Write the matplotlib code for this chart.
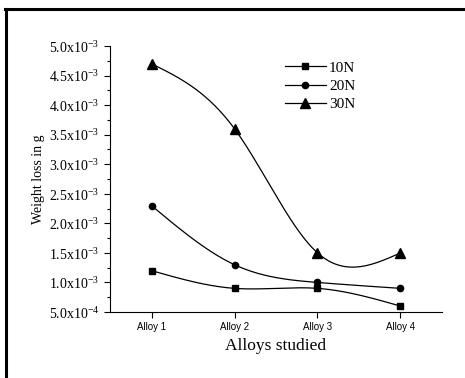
import numpy as np
import matplotlib.pyplot as plt
from matplotlib.lines import Line2D

# Data
alloys = ["Alloy 1", "Alloy 2", "Alloy 3", "Alloy 4"]
loss_10n = [1.2e-3, 0.9e-3, 0.9e-3, 0.6e-3]
loss_20n = [2.3e-3, 1.3e-3, 1.0e-3, 0.9e-3]
loss_30n = [4.7e-3, 3.6e-3, 1.5e-3, 1.5e-3]
y_ticks = [0.5e-3, 1.0e-3, 1.5e-3, 2.0e-3, 2.5e-3, 3.0e-3, 3.5e-3, 4.0e-3, 4.5e-3, 5.0e-3]
y_labels = ["5.0x10$^{\\mathregular{-4}}$"] + \
    ["%.1fx10$^{\\mathregular{-3}}$" % (v * 1e3) for v in y_ticks[1:]]


# Natural cubic spline through the points, for the smoothed lines
def spline(x, y, n=200):
    x = np.asarray(x, float)
    y = np.asarray(y, float)
    k = len(x)
    h = np.diff(x)
    A = np.zeros((k, k))
    b = np.zeros(k)
    A[0, 0] = A[-1, -1] = 1
    for i in range(1, k - 1):
        A[i, i - 1] = h[i - 1]
        A[i, i] = 2 * (h[i - 1] + h[i])
        A[i, i + 1] = h[i]
        b[i] = 3 * ((y[i + 1] - y[i]) / h[i] - (y[i] - y[i - 1]) / h[i - 1])
    c = np.linalg.solve(A, b)
    xs = np.linspace(x[0], x[-1], n)
    ys = np.empty_like(xs)
    for j, xv in enumerate(xs):
        i = min(np.searchsorted(x, xv, side="right") - 1, k - 2)
        dx = xv - x[i]
        bi = (y[i + 1] - y[i]) / h[i] - h[i] * (2 * c[i] + c[i + 1]) / 3
        di = (c[i + 1] - c[i]) / (3 * h[i])
        ys[j] = y[i] + bi * dx + c[i] * dx**2 + di * dx**3
    return xs, ys


plt.rcParams["font.family"] = "Liberation Serif"
plt.rcParams["mathtext.fontset"] = "custom"
plt.rcParams["mathtext.rm"] = "Liberation Serif"

fig = plt.figure(figsize=(4.65, 3.78), dpi=100)
ax = fig.add_axes([0.2366, 0.1746, 0.7139, 0.7037])

x = np.arange(1, len(alloys) + 1)
series = [("10N", loss_10n, "s", 4), ("20N", loss_20n, "o", 4.5), ("30N", loss_30n, "^", 6.5)]
handles = []
for name, vals, mk, ms in series:
    xs, ys = spline(x, vals)
    ax.plot(xs, ys, color="black", lw=0.9)
    ax.plot(x, vals, linestyle="none", marker=mk, ms=ms, color="black")
    handles.append(Line2D([], [], color="black", lw=0.9, marker=mk, ms=ms, label=name))

ax.set_xlim(0.5, 4.5)
ax.set_ylim(0.5e-3, 5.0e-3)
ax.set_xticks(x)
ax.set_xticklabels(alloys, fontfamily="Liberation Sans", fontsize=7)
ax.set_yticks(y_ticks)
ax.set_yticklabels(y_labels, fontsize=10)
ax.set_yticks(np.arange(0.75e-3, 5.0e-3, 0.5e-3), minor=True)
ax.tick_params(axis="both", direction="out", length=4, width=0.8)
ax.tick_params(axis="y", which="minor", direction="out", length=2, width=0.8)

ax.spines["top"].set_visible(False)
ax.spines["right"].set_visible(False)

ax.set_xlabel("Alloys studied", fontsize=12.5, labelpad=4)
ax.set_ylabel("Weight loss in g", fontsize=10, labelpad=3)

ax.legend(handles=handles, loc="upper left", bbox_to_anchor=(0.485, 0.995),
          frameon=False, fontsize=11, handlelength=2.7, labelspacing=0.3,
          handletextpad=0.2)

# Outer frame (top and left edges only visible)
fig.add_artist(Line2D([5 / 465, 1.0], [1 - 9 / 378, 1 - 9 / 378],
                      transform=fig.transFigure, color="black", lw=2.2))
fig.add_artist(Line2D([6 / 465, 6 / 465], [0.0, 1 - 9 / 378],
                      transform=fig.transFigure, color="black", lw=2.2))

fig.savefig("out.png", dpi=100)
